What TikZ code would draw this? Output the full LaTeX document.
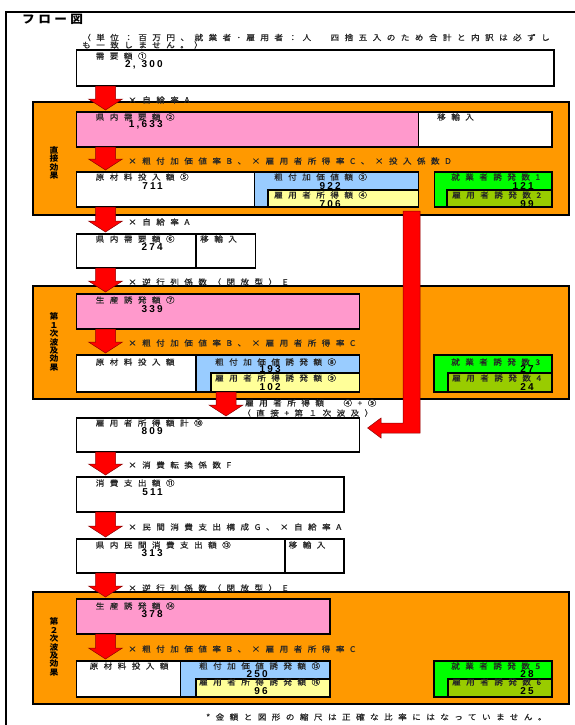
\documentclass[tikz,border=0pt]{standalone}
\usepackage{fontspec}
\usetikzlibrary{calc}
\newfontfamily\jp[FakeStretch=1.1,LetterSpace=70,FakeBold=0.6]{Noto Sans CJK JP}
\newfontfamily\jpt[FakeStretch=1.1,LetterSpace=30]{Noto Sans CJK JP}
\newfontfamily\numf[LetterSpace=22]{Liberation Sans}
\definecolor{org}{HTML}{FF9900}
\definecolor{pnk}{HTML}{FF99CC}
\definecolor{blu}{HTML}{99CCFF}
\definecolor{ylw}{HTML}{FFFF99}
\definecolor{grn}{HTML}{00FF00}
\definecolor{olv}{HTML}{99CC00}
\newcommand\bx[6]{\node[box, fill=#6, minimum width={(#4-#2)*1pt}, minimum height={(#5-#3)*1pt}] (#1) at (#2,#3) {};}
\newcommand\blockdown[3]{%
  \draw[redarr] let \p1=(#1.south), \p2=(#2.north), \p3=(#3,0) in
  (\x3-10pt,\y1) -- (\x3+10pt,\y1) -- (\x3+10pt,\y2+13pt) -- (\x3+17pt,\y2+13pt) --
  (\x3,\y2+2pt) -- (\x3-17pt,\y2+13pt) -- (\x3-10pt,\y2+13pt) -- cycle;}
\begin{document}
\begin{tikzpicture}[x=1pt,y=-1pt,
  box/.style={draw=black, line width=1.3pt, inner sep=0, outer sep=0, anchor=north west},
  lbl/.style={anchor=west, inner sep=0, font=\jp\fontsize{7.8}{8}\selectfont, text=black!85},
  num/.style={anchor=east, inner sep=0, font=\numf\bfseries\fontsize{10}{10}\selectfont},
  vlab/.style={align=center, inner sep=0, font=\jpt\bfseries\fontsize{8}{8.4}\selectfont},
  ttl/.style={anchor=west, inner sep=0, font=\jpt\bfseries\fontsize{11.5}{12}\selectfont},
  redarr/.style={fill=red, draw=red!55!black, line width=0.5pt, line join=miter}]
\useasboundingbox (0,0) rectangle (575,725);
\fill[white] (0,0) rectangle (575,725);
% frame
\draw[line width=1.4pt] (6,725) -- (6,12) -- (575,12);
\node[ttl] (title) at (22,19) {フロー図};
\node[lbl] (note1) at (82,37.5) {（単位：百万円、就業者･雇用者：人　四捨五入のため合計と内訳は必ずし};
\node[lbl] (note2) at (82,45) {も一致しません。）};
% orange regions
\bx{o1}{33}{102}{569}{215}{org}
\bx{o2}{33}{286}{569}{399}{org}
\bx{o3}{33}{592}{569}{704}{org}
\node[vlab] (v1) at (54,163) {直\\接\\効\\果};
\node[vlab] (v2) at (54,342) {第\\１\\次\\波\\及\\効\\果};
\node[vlab] (v3) at (54,647) {第\\２\\次\\波\\及\\効\\果};
% row 1
\bx{b1}{76.7}{50}{554}{86}{white}
\node[lbl] at (95.6,56) {需要額①};
\node[num] at (163,65) {2,\kern6pt300};
% row 2
\bx{b2}{76.7}{112}{418.8}{147}{pnk}
\bx{m2}{418.8}{112}{552}{147}{white}
\node[lbl] at (95.6,117) {県内需要額②};
\node[num] at (163,125) {1,633};
\node[lbl] at (437,117) {移輸入};
% row 3
\bx{b5}{76.7}{172}{254.8}{207}{white}
\bx{b3}{254.8}{172}{418.8}{207}{blu}
\bx{b4}{268}{190}{418.8}{207}{ylw}
\bx{g1}{434.5}{172}{552}{207}{grn}
\bx{g2}{447}{190}{552}{207}{olv}
\node[lbl] at (95.6,177) {原材料投入額⑤};
\node[num] at (163,186) {711};
\node[lbl] at (274,177) {粗付加価値額③};
\node[num] at (341,186) {922};
\node[lbl] at (274,195) {雇用者所得額④};
\node[num] at (341,204) {706};
\node[lbl] at (451,177) {就業者誘発数1};
\node[num] at (534,186) {121};
\node[lbl] at (452,195) {雇用者誘発数2};
\node[num] at (534,204) {99};
% row 6
\bx{b6}{76.7}{234}{196}{268}{white}
\bx{m6}{196}{234}{255.6}{268}{white}
\node[lbl] at (95.6,239) {県内需要額⑥};
\node[num] at (163,247) {274};
\node[lbl] at (200,239) {移輸入};
% row 7
\bx{b7}{76.7}{294}{359.6}{329}{pnk}
\node[lbl] at (95.6,300) {生産誘発額⑦};
\node[num] at (163,309) {339};
% row 8
\bx{w8}{76.7}{355}{196}{392}{white}
\bx{b8}{196}{355}{359.6}{392}{blu}
\bx{b9}{211}{373}{359.6}{392}{ylw}
\bx{g3}{434}{355}{552}{392}{grn}
\bx{g4}{448}{373}{552}{392}{olv}
\node[lbl] at (95.6,362) {原材料投入額};
\node[lbl] at (215,362) {粗付加価値誘発額⑧};
\node[num] at (281,369) {193};
\node[lbl] at (215,378) {雇用者所得誘発額⑨};
\node[num] at (281,387) {102};
\node[lbl] at (451,362) {就業者誘発数3};
\node[num] at (534,369) {27};
\node[lbl] at (452,378) {雇用者誘発数4};
\node[num] at (534,387) {24};
% row 10
\bx{b10}{76.7}{418}{359.6}{452}{white}
\node[lbl] at (95.6,423) {雇用者所得額計⑩};
\node[num] at (163,431) {809};
% row 11
\bx{b11}{76.7}{477}{344}{512}{white}
\node[lbl] at (95.6,483) {消費支出額⑪};
\node[num] at (163,492) {511};
% row 13
\bx{b13}{76.7}{539}{285}{573}{white}
\bx{m13}{285}{539}{344}{573}{white}
\node[lbl] at (95.6,545) {県内民間消費支出額⑬};
\node[num] at (163,553) {313};
\node[lbl] at (288.5,545) {移輸入};
% row 14
\bx{b14}{76.7}{599}{330}{634}{pnk}
\node[lbl] at (95.6,606) {生産誘発額⑭};
\node[num] at (163,614) {378};
% row 15
\bx{w15}{76.7}{661}{180.7}{697}{white}
\bx{b15}{180.7}{661}{330}{697}{blu}
\bx{b16}{196}{679}{330}{697}{ylw}
\bx{g5}{434}{661}{552}{697}{grn}
\bx{g6}{448}{679}{552}{697}{olv}
\node[lbl] at (89.5,666) {原材料投入額};
\node[lbl] at (199,666) {粗付加価値誘発額⑮};
\node[num] at (268,674) {250};
\node[lbl] at (199,682) {雇用者所得誘発額⑯};
\node[num] at (268,691) {96};
\node[lbl] at (451,666) {就業者誘発数5};
\node[num] at (534,674) {28};
\node[lbl] at (452,682) {雇用者誘発数6};
\node[num] at (534,691) {25};
% down arrows
\blockdown{b1}{b2}{105.5}
\blockdown{b2}{b5}{105.5}
\blockdown{b5}{b6}{105.5}
\blockdown{b6}{b7}{105.5}
\blockdown{b7}{w8}{105.5}
\blockdown{b9}{b10}{226}
\blockdown{b10}{b11}{105.5}
\blockdown{b11}{b13}{105.5}
\blockdown{b13}{b14}{105.5}
\blockdown{b14}{w15}{105.5}
% arrow labels
\node[lbl] (l1) at (128,100) {×自給率A};
\node[lbl] (l2) at (128,161) {×粗付加価値率B、×雇用者所得率C、×投入係数D};
\node[lbl] (l3) at (128,222) {×自給率A};
\node[lbl] (l4) at (128,282) {×逆行列係数（閉放型）E};
\node[lbl] (l5) at (128,343) {×粗付加価値率B、×雇用者所得率C};
\node[lbl] (l6a) at (245,403) {雇用者所得額　④+⑨};
\node[lbl] (l6b) at (242,413) {（直接+第１次波及）};
\node[lbl] (l7) at (128,465) {×消費転換係数F};
\node[lbl] (l8) at (128,527) {×民間消費支出構成G、×自給率A};
\node[lbl] (l9) at (128,588) {×逆行列係数（閉放型）E};
\node[lbl] (l10) at (128,649) {×粗付加価値率B、×雇用者所得率C};
% long connector from direct effect to employee income total
\coordinate (rtip) at ($(b10.east)+(8,-7)$);
\draw[redarr] (403,211) -- (420,211) -- (420,433) -- (381,433) -- (381,438) -- (rtip) -- (381,418) -- (381,423) -- (403,423) -- cycle;
\node[lbl] (foot) at (206,717) {*金額と図形の縮尺は正確な比率にはなっていません。};
\end{tikzpicture}
\end{document}
